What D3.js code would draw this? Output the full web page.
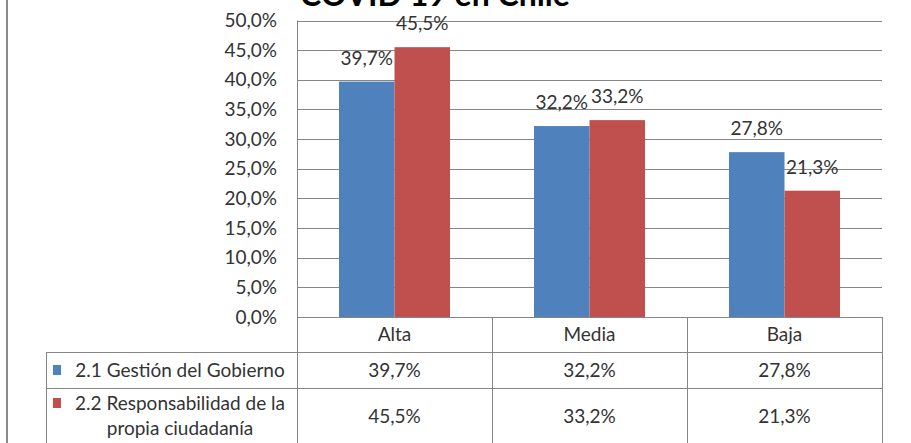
<!DOCTYPE html>
<html><head><meta charset="utf-8">
<script src="https://cdn.jsdelivr.net/npm/d3@7"></script>
<style>html,body{margin:0;padding:0;background:#fff;overflow:hidden}svg{display:block;font-family:Lato,"Open Sans",sans-serif}</style>
</head><body><svg id="c" width="911" height="443"></svg>
<script>
const title = "COVID 19 en Chile";
const categories = ["Alta", "Media", "Baja"];
const seriesNames = ["2.1 Gestión del Gobierno", "2.2 Responsabilidad de la propia ciudadanía"];
const seriesLines = [["2.1 Gestión del Gobierno"], ["2.2 Responsabilidad de la", "propia ciudadanía"]];
const gobierno = [0.397, 0.322, 0.278];
const ciudadania = [0.455, 0.332, 0.213];
const yTicks = [0, 0.05, 0.10, 0.15, 0.20, 0.25, 0.30, 0.35, 0.40, 0.45, 0.50];
const colors = ["#4F81BD", "#C0504D"];

const series = [gobierno, ciudadania];
const loc = d3.formatLocale({decimal: ",", thousands: ".", grouping: [3], currency: ["", "€"]});
const fmt = loc.format(".1%");

const svg = d3.select("#c");
const L = 297, R = 882, T = 20.5, B = 317;
const x0 = d3.scaleBand().domain(categories).range([L, R]).padding(0);
const x1 = d3.scaleBand().domain([0, 1]).range([0, x0.bandwidth()]).paddingInner(0).paddingOuter(0.757);
const y = d3.scaleLinear().domain([0, 0.5]).range([B, T]);
const gridC = "#868686", txtC = "#333333";

// left page border
svg.append("line").attr("x1", 7).attr("x2", 7).attr("y1", 0).attr("y2", 443)
  .attr("stroke", "#8a8a8a").attr("stroke-width", 2);

// gridlines
svg.append("g").selectAll("line").data(yTicks).join("line")
  .attr("x1", L).attr("x2", R).attr("y1", d => Math.round(y(d)) + 0.5).attr("y2", d => Math.round(y(d)) + 0.5)
  .attr("stroke", gridC).attr("stroke-width", 1);

// y axis
const yAxis = d3.axisLeft(y).tickValues(yTicks).tickFormat(fmt).tickSize(0).tickPadding(20);
const ya = svg.append("g").attr("transform", `translate(${L},0)`).call(yAxis);
ya.select(".domain").remove();
ya.selectAll("text").attr("font-size", 19).attr("fill", txtC).attr("font-family", "Lato");

// bars
const groups = svg.append("g").selectAll("g").data(categories).join("g")
  .attr("transform", d => `translate(${x0(d)},0)`);
groups.selectAll("rect").data((c, i) => series.map((s, j) => ({j, v: s[i]}))).join("rect")
  .attr("x", d => x1(d.j)).attr("width", x1.bandwidth())
  .attr("y", d => y(d.v)).attr("height", d => y(0) - y(d.v))
  .attr("fill", d => colors[d.j]);
groups.selectAll("text").data((c, i) => series.map((s, j) => ({j, v: s[i]}))).join("text")
  .attr("x", d => x1(d.j) + x1.bandwidth() / 2).attr("y", d => y(d.v) - 17)
  .attr("text-anchor", "middle").attr("font-size", 19).attr("fill", txtC).text(d => fmt(d.v));

// vertical axis line
svg.append("line").attr("x1", L + 0.5).attr("x2", L + 0.5).attr("y1", T).attr("y2", 443).attr("stroke", gridC);

// data table
const rowY = [B, 352, 388, 460];
const tg = svg.append("g");
tg.append("line").attr("x1", 46).attr("x2", R).attr("y1", rowY[1] + 0.5).attr("y2", rowY[1] + 0.5).attr("stroke", gridC);
tg.append("line").attr("x1", 46).attr("x2", R).attr("y1", rowY[2] + 0.5).attr("y2", rowY[2] + 0.5).attr("stroke", gridC);
tg.append("line").attr("x1", 46.5).attr("x2", 46.5).attr("y1", rowY[1]).attr("y2", 443).attr("stroke", gridC);
tg.selectAll("line.v").data(categories).join("line").attr("class", "v")
  .attr("x1", d => Math.round(x0(d) + x0.bandwidth()) + 0.5).attr("x2", d => Math.round(x0(d) + x0.bandwidth()) + 0.5)
  .attr("y1", B).attr("y2", 443).attr("stroke", gridC);
tg.selectAll("text.h").data(categories).join("text").attr("class", "h")
  .attr("x", d => x0(d) + x0.bandwidth() / 2).attr("y", 341).attr("text-anchor", "middle")
  .attr("font-size", 19).attr("fill", txtC).text(d => d);
const valY = [377, 423];
series.forEach((s, j) => {
  tg.selectAll("text.r" + j).data(categories).join("text").attr("class", "r" + j)
    .attr("x", d => x0(d) + x0.bandwidth() / 2).attr("y", valY[j]).attr("text-anchor", "middle")
    .attr("font-size", 19).attr("fill", txtC).text((d, i) => fmt(s[i]));
});
const legY = [[377], [410, 435]];
seriesLines.forEach((lines, j) => {
  lines.forEach((ln, k) => {
    tg.append("text").attr("x", 180).attr("y", legY[j][k]).attr("text-anchor", "middle")
      .attr("font-size", 19).attr("fill", txtC).text(ln);
  });
  tg.append("rect").attr("x", 53).attr("y", legY[j][0] - 12).attr("width", 8).attr("height", 10).attr("fill", colors[j]);
});

// title
svg.append("text").attr("x", 435).attr("y", 6).attr("text-anchor", "middle")
  .attr("font-size", 32).attr("font-weight", "bold").attr("fill", "#000").text(title);
</script></body></html>
